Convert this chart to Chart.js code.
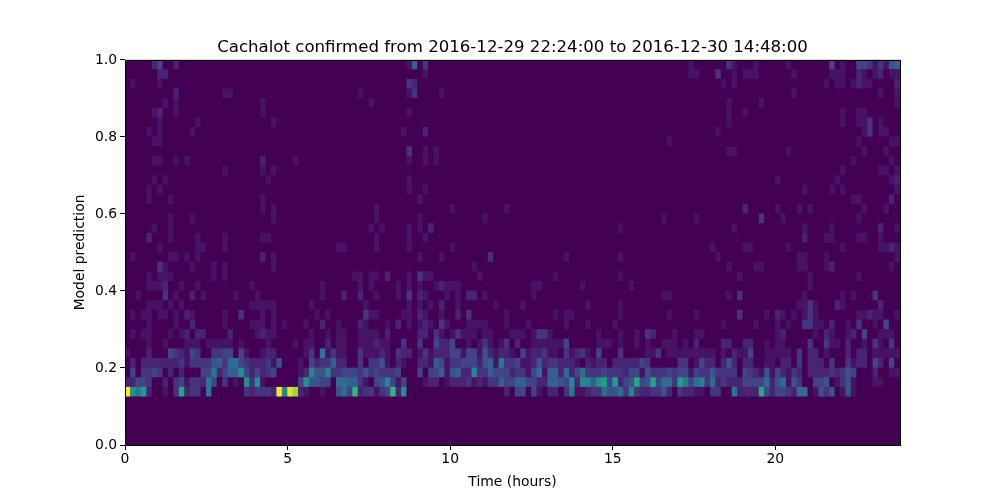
<!DOCTYPE html>
<html>
<head>
<meta charset="utf-8">
<title>Cachalot prediction histogram</title>
<script src="https://cdn.jsdelivr.net/npm/chart.js@4/dist/chart.umd.js"></script>
<style>
html,body{margin:0;padding:0;background:#fff;}
#wrap{width:1000px;height:500px;}
</style>
</head>
<body>
<div id="wrap"><canvas id="chart" width="1000" height="500"></canvas></div>
<script>
// time bins are 10 minutes, prediction bins 0.025 wide
const timeBinCount = 143;
const predBinCount = 40;
const binHours = 1/6;
const binPred = 0.025;
const maxCount = 20;

const xTicks = [0,5,10,15,20];
const yTicks = [0,0.2,0.4,0.6,0.8,1];

// each row: [time bin, count] for one prediction bin, empty bins left out
const row5 = [[0,20],[1,10],[2,8],[3,11],[4,2],[7,1],[9,3],[10,12],[11,2],[12,3],[13,3],[15,8],[22,3],[23,2],[24,3],[25,3],[26,3],[27,2],[28,20],[29,9],[30,19],[31,17],[32,2],[33,1],[36,1],[39,5],[40,7],[41,4],[42,13],[43,2],[44,3],[45,3],[46,1],[47,3],[48,4],[49,13],[50,2],[51,10],[70,2],[72,4],[73,4],[75,4],[76,1],[78,2],[79,2],[81,3],[82,8],[83,1],[84,1],[85,2],[86,3],[87,3],[88,7],[89,5],[90,5],[91,7],[92,3],[93,9],[94,3],[95,2],[96,2],[97,3],[98,3],[99,5],[100,2],[102,3],[103,2],[104,2],[105,1],[106,1],[108,3],[109,3],[112,8],[113,2],[114,2],[115,2],[116,2],[117,12],[118,4],[119,2],[120,4],[121,4],[122,3],[123,2],[124,7],[125,7],[127,1],[128,5],[129,3],[130,5],[132,1],[133,5],[134,1]];
const row6 = [[0,2],[1,2],[2,4],[3,4],[4,3],[7,2],[9,3],[10,4],[11,1],[12,3],[13,3],[14,2],[15,8],[16,4],[18,3],[20,1],[22,10],[23,3],[24,10],[25,1],[32,4],[33,10],[34,5],[35,5],[36,4],[37,4],[39,7],[40,7],[41,6],[42,6],[43,3],[44,1],[46,4],[47,5],[48,9],[49,4],[50,1],[51,4],[55,1],[56,2],[57,2],[59,1],[60,2],[61,2],[62,2],[63,3],[64,1],[65,2],[66,1],[67,3],[68,3],[69,6],[70,4],[71,4],[72,6],[73,6],[74,4],[75,4],[76,2],[77,2],[78,6],[79,6],[80,5],[81,4],[82,9],[83,2],[84,9],[85,9],[86,6],[87,10],[88,11],[89,4],[90,11],[91,2],[92,4],[93,5],[94,12],[95,4],[96,5],[97,12],[98,4],[99,7],[100,7],[101,3],[102,11],[103,8],[104,4],[105,7],[106,9],[107,3],[108,7],[109,2],[110,3],[111,2],[112,2],[113,2],[114,4],[115,4],[116,4],[117,4],[118,7],[119,2],[120,5],[121,7],[122,1],[123,5],[124,3],[127,4],[128,4],[129,5],[131,1],[132,3],[133,5],[134,1],[138,1],[139,1]];
const row7 = [[1,4],[3,3],[4,3],[5,4],[6,3],[8,2],[10,2],[14,4],[15,4],[16,8],[17,2],[18,4],[19,6],[20,6],[21,10],[22,4],[23,2],[24,4],[25,2],[26,3],[27,4],[32,1],[33,2],[34,9],[35,5],[36,5],[37,9],[38,3],[39,3],[40,4],[41,4],[42,4],[43,3],[44,5],[45,3],[46,4],[47,3],[48,3],[49,3],[50,4],[54,4],[56,4],[57,4],[58,6],[59,1],[60,5],[61,6],[62,2],[63,2],[64,9],[65,3],[66,3],[67,6],[68,4],[69,4],[70,4],[71,2],[72,3],[73,3],[74,1],[75,4],[76,7],[77,1],[78,6],[79,6],[80,2],[81,7],[82,2],[83,4],[84,7],[85,3],[86,3],[87,3],[88,4],[89,3],[90,3],[91,3],[92,2],[93,4],[94,4],[95,1],[96,5],[97,3],[98,3],[99,3],[100,4],[101,3],[102,4],[103,4],[104,1],[105,4],[106,3],[107,3],[108,5],[109,3],[110,3],[111,3],[112,3],[114,4],[115,3],[116,2],[117,1],[118,5],[119,1],[120,4],[121,2],[122,1],[123,3],[124,2],[126,2],[127,2],[128,2],[129,2],[130,3],[131,2],[132,3],[133,5],[134,4],[138,2],[141,1],[142,1]];
const row8 = [[1,2],[3,2],[4,2],[5,2],[6,2],[7,2],[8,2],[9,2],[10,3],[11,1],[12,3],[13,3],[14,3],[15,3],[16,5],[17,6],[18,3],[19,7],[20,7],[21,4],[22,3],[23,2],[24,2],[25,2],[26,3],[27,1],[28,5],[32,1],[34,4],[35,2],[36,3],[37,3],[38,6],[39,2],[40,2],[43,3],[45,3],[46,3],[47,5],[48,1],[50,2],[51,1],[54,2],[55,2],[56,1],[57,6],[58,4],[59,1],[60,3],[61,3],[62,4],[63,4],[64,4],[65,2],[66,5],[67,6],[68,1],[69,8],[70,3],[71,3],[72,4],[73,1],[74,1],[75,2],[76,5],[77,2],[78,3],[79,3],[80,2],[81,2],[82,2],[83,1],[85,2],[86,1],[87,2],[88,2],[90,2],[91,2],[92,2],[93,2],[94,2],[95,4],[96,3],[102,3],[103,3],[105,1],[106,4],[107,2],[108,2],[110,2],[111,5],[112,2],[114,2],[115,2],[118,1],[119,1],[121,2],[122,2],[124,3],[126,2],[127,2],[128,2],[130,3],[133,3],[134,1],[135,2],[136,2],[138,4],[139,2],[141,4]];
const row9 = [[0,1],[4,2],[8,4],[9,3],[10,2],[11,1],[12,4],[13,3],[16,3],[17,3],[18,4],[19,4],[21,4],[22,1],[25,1],[26,2],[27,2],[33,1],[34,3],[36,8],[37,1],[38,3],[39,1],[40,1],[43,3],[44,1],[45,1],[46,1],[47,2],[48,1],[50,3],[51,2],[52,2],[54,1],[55,3],[56,1],[57,2],[58,2],[59,2],[60,4],[61,4],[62,1],[63,4],[64,4],[65,1],[66,5],[67,2],[68,1],[69,2],[70,2],[71,1],[73,4],[74,1],[75,2],[76,2],[77,3],[78,1],[79,1],[81,3],[82,1],[83,2],[84,3],[85,1],[87,4],[91,3],[96,1],[97,1],[98,3],[100,1],[101,1],[102,1],[103,1],[104,1],[105,1],[106,1],[107,1],[108,1],[110,1],[112,2],[113,1],[114,1],[115,4],[118,1],[119,1],[120,1],[121,1],[122,1],[124,3],[126,2],[127,2],[129,1],[133,2],[135,2],[136,2],[138,1],[139,1],[140,1],[141,1],[142,1]];
const row10 = [[4,1],[7,1],[11,1],[12,1],[13,1],[15,1],[16,1],[17,1],[18,1],[19,1],[21,1],[26,1],[31,1],[33,1],[34,1],[37,2],[39,1],[40,1],[43,1],[44,1],[45,1],[46,2],[47,1],[48,1],[51,3],[54,3],[57,4],[58,2],[59,2],[60,4],[63,1],[65,1],[66,3],[67,1],[69,1],[70,3],[72,2],[75,1],[76,1],[77,1],[78,1],[79,1],[80,1],[81,4],[87,1],[88,1],[89,1],[91,1],[94,1],[96,1],[99,1],[100,1],[101,1],[103,1],[105,2],[110,2],[111,2],[114,2],[115,2],[118,1],[120,1],[121,1],[126,3],[129,3],[130,1],[131,1],[133,2],[136,1],[138,3],[139,1],[141,3]];
const row11 = [[1,1],[3,1],[4,1],[8,1],[10,1],[11,2],[13,2],[14,2],[19,2],[24,1],[25,2],[26,1],[27,1],[34,1],[37,1],[39,1],[40,1],[43,1],[44,1],[45,1],[46,1],[48,2],[54,2],[55,2],[57,3],[58,1],[60,1],[61,3],[62,1],[63,1],[64,1],[66,1],[67,1],[71,1],[72,1],[73,1],[75,1],[76,3],[77,3],[78,1],[87,1],[91,1],[94,1],[96,3],[97,2],[101,1],[105,1],[106,1],[120,1],[121,2],[127,1],[129,2],[130,1],[133,1],[134,2],[136,4],[139,1],[140,1],[141,1]];
const row12 = [[4,1],[9,1],[12,2],[18,1],[23,1],[24,1],[25,1],[27,1],[29,1],[33,1],[36,2],[39,1],[43,2],[44,1],[48,1],[50,2],[52,1],[54,1],[55,2],[56,1],[58,3],[59,1],[63,1],[64,1],[65,1],[66,1],[70,1],[74,1],[81,1],[85,1],[90,1],[110,1],[116,1],[120,1],[122,1],[125,3],[126,3],[127,1],[128,1],[130,2],[133,1],[135,3],[138,1],[140,4]];
const row13 = [[1,1],[3,1],[4,1],[6,1],[7,1],[9,1],[11,2],[12,1],[18,1],[21,3],[25,1],[27,1],[35,1],[37,1],[44,3],[45,1],[46,1],[51,1],[52,1],[54,2],[55,1],[58,1],[61,2],[63,3],[70,1],[79,1],[81,1],[82,1],[91,1],[100,1],[105,1],[113,3],[118,1],[120,2],[121,1],[123,1],[125,1],[126,3],[127,1],[135,1],[136,1],[137,2],[138,1],[139,1],[142,1]];
const row14 = [[4,1],[5,1],[6,1],[8,1],[10,1],[23,1],[24,1],[25,1],[26,1],[27,1],[34,1],[44,1],[52,1],[54,1],[56,1],[58,2],[61,1],[68,1],[73,1],[85,1],[91,1],[124,1],[125,1],[126,3],[127,1],[131,2],[132,1],[139,2]];
const row15 = [[2,1],[7,3],[9,1],[12,2],[14,1],[20,1],[24,1],[36,1],[40,2],[43,2],[46,1],[50,1],[52,3],[54,2],[55,1],[59,1],[61,1],[63,2],[64,2],[66,1],[75,1],[99,1],[100,1],[111,1],[113,3],[125,1],[132,1],[134,1],[138,3]];
const row16 = [[4,1],[5,1],[6,1],[7,2],[10,1],[13,1],[23,1],[36,1],[43,1],[45,1],[50,1],[52,1],[54,1],[57,1],[58,2],[59,1],[60,1],[61,1],[75,1],[76,1],[84,1],[93,1],[126,1]];
const row17 = [[4,1],[6,1],[7,1],[8,1],[16,1],[18,1],[42,1],[43,1],[45,1],[46,1],[48,2],[52,1],[54,3],[55,1],[56,1],[65,1],[79,1],[91,1],[113,1],[126,1],[135,1]];
const row18 = [[6,3],[7,1],[12,1],[16,1],[18,1],[27,1],[64,1],[111,1],[116,1],[117,1],[124,1],[125,1],[129,1],[130,2],[141,1]];
const row19 = [[1,1],[8,1],[9,1],[11,1],[13,1],[25,2],[27,1],[54,1],[58,1],[67,3],[81,1],[91,1],[109,1],[124,1],[125,1],[129,1],[142,1]];
const row20 = [[6,1],[13,1],[14,1],[18,1],[39,1],[40,1],[46,1],[52,1],[60,1],[108,1],[114,1],[115,1],[122,1],[132,1],[139,1],[140,1],[141,2],[142,1]];
const row21 = [[4,2],[8,1],[13,1],[18,1],[25,1],[26,1],[46,1],[52,1],[55,1],[125,2],[129,1],[130,1],[135,1],[136,1],[139,1]];
const row22 = [[5,1],[8,1],[45,1],[47,1],[52,1],[54,1],[56,2],[91,1],[112,1],[125,1],[130,1],[139,2],[142,1]];
const row23 = [[8,1],[12,1],[27,1],[46,1],[54,1],[66,1],[99,1],[105,1],[117,3],[121,1],[135,1]];
const row24 = [[25,1],[27,1],[46,1],[60,1],[70,1],[114,2],[120,1],[124,1],[126,1],[136,1],[140,1]];
const row25 = [[4,1],[8,1],[25,1],[54,1],[134,1],[135,1],[141,2]];
const row26 = [[4,1],[6,1],[52,1],[55,1],[125,1],[130,1],[132,1],[142,1]];
const row27 = [[5,1],[7,1],[26,1],[52,1],[120,1],[131,1],[141,1],[142,2]];
const row28 = [[18,1],[25,1],[27,1],[132,1],[139,1],[140,1],[142,1]];
const row29 = [[5,1],[6,1],[9,1],[11,1],[25,2],[31,1],[52,1],[55,1],[57,1],[134,1],[141,1]];
const row30 = [[52,3],[55,1],[57,1],[111,1],[112,1],[122,1],[136,1],[140,1]];
const row31 = [[5,1],[6,1],[100,1],[135,1],[141,1],[142,1]];
const row32 = [[4,1],[6,1],[12,1],[51,1],[55,2],[109,1],[136,1],[137,3],[139,1],[140,1]];
const row33 = [[6,1],[13,1],[27,1],[111,1],[132,1],[135,1],[136,1],[137,3],[139,1]];
const row34 = [[5,1],[6,2],[9,1],[25,1],[52,1],[111,1],[114,1],[132,1],[135,1],[136,1]];
const row35 = [[7,1],[9,1],[25,1],[45,1],[111,1],[117,1],[142,1]];
const row36 = [[9,2],[18,1],[19,1],[43,1],[52,1],[53,3],[58,1],[123,1],[139,1],[142,1]];
const row37 = [[1,1],[6,1],[52,3],[53,2],[110,1],[112,1],[129,1],[131,1],[132,1],[134,1],[135,2],[136,1],[137,1],[142,2]];
const row38 = [[6,2],[7,2],[55,1],[104,1],[105,1],[109,3],[112,1],[114,1],[115,1],[116,1],[123,1],[130,1],[131,1],[132,1],[135,2],[136,1],[138,1],[139,2],[141,1],[142,1]];
const row39 = [[5,2],[6,4],[9,2],[52,1],[53,6],[55,3],[104,1],[111,3],[112,1],[116,1],[122,1],[130,4],[132,1],[135,4],[136,4],[137,3],[138,1],[139,3],[140,1],[141,5],[142,6]];

const filledRows = {5:row5,6:row6,7:row7,8:row8,9:row9,10:row10,11:row11,12:row12,13:row13,14:row14,15:row15,16:row16,17:row17,18:row18,19:row19,20:row20,21:row21,22:row22,23:row23,24:row24,25:row25,26:row26,27:row27,28:row28,29:row29,30:row30,31:row31,32:row32,33:row33,34:row34,35:row35,36:row36,37:row37,38:row38,39:row39};

// viridis
const cmap = [[68,1,84],[72,36,117],[65,68,135],[53,95,141],[42,120,142],[33,145,140],[34,168,132],[68,191,112],[122,209,81],[189,223,38],[253,231,37]];
function viridis(t){
  const p = Math.min(Math.max(t,0),1)*(cmap.length-1);
  const i = Math.min(Math.floor(p), cmap.length-2), f = p-i;
  const c = cmap[i].map((v,k)=>Math.round(v+(cmap[i+1][k]-v)*f));
  return `rgb(${c[0]},${c[1]},${c[2]})`;
}

// one floating-bar dataset per prediction bin, covering every time bin
const datasets = [];
for(let r=0;r<predBinCount;r++){
  const counts = new Array(timeBinCount).fill(0);
  (filledRows[r]||[]).forEach(p=>{ counts[p[0]] = p[1]; });
  const lo = r*binPred, hi = (r+1)*binPred;
  datasets.push({
    data: counts.map((c,i)=>({x:(i+0.5)*binHours, y:[lo,hi]})),
    backgroundColor: counts.map(c=>viridis(c/maxCount)),
    borderWidth: 0,
    grouped: false,
    barPercentage: 1,
    categoryPercentage: 1
  });
}

const font = {family:'"DejaVu Sans"', size:13.9};

// dark floor under the cells and the frame on top
const frame = {
  id:'frame',
  beforeDatasetsDraw(chart){
    const a = chart.chartArea, ctx = chart.ctx;
    ctx.save();
    ctx.fillStyle = viridis(0);
    ctx.fillRect(a.left, a.top, a.right-a.left, a.bottom-a.top);
    ctx.restore();
  },
  afterDraw(chart){
    const a = chart.chartArea, ctx = chart.ctx;
    ctx.save();
    ctx.strokeStyle = '#000';
    ctx.lineWidth = 1;
    ctx.strokeRect(a.left+0.5, a.top+0.5, a.right-a.left, a.bottom-a.top);
    ctx.restore();
  }
};

new Chart(document.getElementById('chart').getContext('2d'), {
  type:'bar',
  data:{datasets},
  plugins:[frame],
  options:{
    responsive:false,
    animation:false,
    events:[],
    layout:{padding:{top:0,right:100,bottom:0,left:0}},
    plugins:{
      legend:{display:false},
      tooltip:{enabled:false},
      title:{
        display:true,
        fullSize:false,
        text:'Cachalot confirmed from 2016-12-29 22:24:00 to 2016-12-30 14:48:00',
        color:'#000',
        font:{family:'"DejaVu Sans"', size:16.6, weight:'normal'},
        padding:{top:38,bottom:2}
      }
    },
    scales:{
      x:{
        type:'linear',
        min:0,
        max:timeBinCount*binHours,
        offset:false,
        afterFit(s){ s.height = 55; },
        afterBuildTicks(s){ s.ticks = xTicks.map(v=>({value:v})); },
        ticks:{color:'#000', font, padding:1, maxRotation:0, callback:v=>String(v)},
        grid:{display:true, offset:false, drawOnChartArea:false, drawTicks:true, tickLength:5, color:'#000'},
        border:{display:false},
        title:{display:true, text:'Time (hours)', color:'#000', font, padding:{top:4,bottom:9}}
      },
      y:{
        type:'linear',
        min:0,
        max:1,
        afterFit(s){ s.width = 125; },
        afterBuildTicks(s){ s.ticks = yTicks.map(v=>({value:v})); },
        ticks:{color:'#000', font, padding:3, callback:v=>v.toFixed(1)},
        grid:{display:true, offset:false, drawOnChartArea:false, drawTicks:true, tickLength:5, color:'#000'},
        border:{display:false},
        title:{display:true, text:'Model prediction', color:'#000', font, padding:{top:72,bottom:4}}
      }
    }
  }
});
</script>
</body>
</html>
